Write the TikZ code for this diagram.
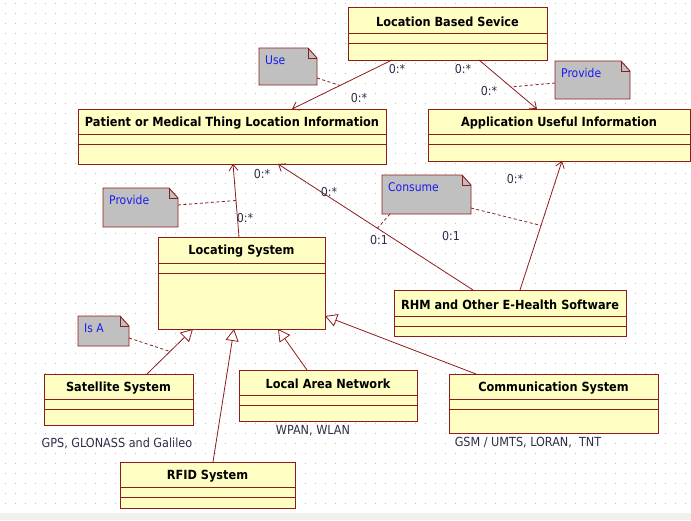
\documentclass[tikz,border=0pt]{standalone}
\usepackage{fontspec}
\setmainfont{DejaVu Sans Condensed}
\usetikzlibrary{arrows.meta,calc}

\definecolor{umlborder}{HTML}{8E1C1C}
\definecolor{umlfill}{HTML}{FFFFC4}
\definecolor{notefill}{HTML}{C0C0C0}
\definecolor{notetext}{HTML}{1A1AF0}
\definecolor{multtext}{HTML}{2E2E48}
\definecolor{griddot}{HTML}{BEBEBE}
\definecolor{stripfill}{HTML}{F0F0F0}

\tikzset{
  classbox/.style={draw=umlborder, fill=umlfill, line width=0.9pt, inner sep=0pt, outer sep=0pt},
  compline/.style={draw=umlborder, line width=0.9pt},
  classtitle/.style={font=\fontsize{12.6}{14}\selectfont\bfseries, text=black, inner sep=0pt},
  noteanchor/.style={inner sep=0pt, outer sep=0pt},
  notebody/.style={draw=umlborder, fill=notefill, line width=0.9pt},
  notetxt/.style={font=\fontsize{12}{14}\selectfont, text=notetext, anchor=west, inner sep=0pt},
  assoc/.style={draw=umlborder, line width=0.8pt, -{Straight Barb[length=6pt,width=9pt]}},
  generalize/.style={draw=umlborder, line width=0.8pt, -{Triangle[open, length=12pt, width=13pt, fill=white]}},
  anchorlink/.style={draw=umlborder, line width=0.8pt, dash pattern=on 3pt off 2.5pt},
  multlabel/.style={font=\fontsize{12.3}{14}\selectfont, text=multtext, inner sep=0pt},
  caption/.style={font=\fontsize{12.5}{14}\selectfont, text=multtext, inner sep=0pt},
  gridline/.style={draw=griddot, line width=0.9pt, dash pattern=on 0.9pt off 9.1pt, dash phase=-4.5pt}
}

% class box: name, x, y, width, height, first divider, second divider, title
\newcommand\umlclass[8]{%
  \node[classbox, minimum width=#4pt, minimum height=#5pt, anchor=north west] (#1) at (#2,#3) {};
  \draw[compline] ([yshift=-#6pt]#1.north west) -- ([yshift=-#6pt]#1.north east);
  \draw[compline] ([yshift=-#7pt]#1.north west) -- ([yshift=-#7pt]#1.north east);
  \node[classtitle, yshift=-1.5pt] at ($(#1.north west)!0.5!([yshift=-#6pt]#1.north east)$) {#8};
}

% note with a folded corner: name, x, y, width, height, text
\newcommand\umlnote[6]{%
  \node[noteanchor, minimum width=#4pt, minimum height=#5pt, anchor=north west] (#1) at (#2,#3) {};
  \path[notebody] (#1.north west) -- ([xshift=-9pt]#1.north east) -- ([yshift=-10pt]#1.north east)
    -- (#1.south east) -- (#1.south west) -- cycle;
  \draw[compline, line width=0.7pt] ([xshift=-9pt]#1.north east) -- ([xshift=-9pt,yshift=-10pt]#1.north east)
    -- ([yshift=-10pt]#1.north east);
  \node[notetxt] at ([xshift=6pt,yshift=-12pt]#1.north west) {#6};
}

\begin{document}
\begin{tikzpicture}[x=1pt,y=-1pt]
  \useasboundingbox (0,0) rectangle (691,520);
  \fill[white] (0,0) rectangle (691,520);

  % dotted drawing grid
  \foreach \gy in {3,13,...,503} {
    \draw[gridline] (0,\gy) -- (691,\gy);
  }
  \fill[stripfill] (0,513) rectangle (691,520);

  % classes
  \umlclass{lbs}{348}{7}{199}{53}{26}{36}{Location Based Sevice}
  \umlclass{patient}{78}{109}{308}{55}{25}{35}{Patient or Medical Thing Location Information}
  \umlclass{appinfo}{428}{109}{262}{52}{25}{35}{Application Useful Information}
  \umlclass{locsys}{158}{237}{167}{92}{26}{36}{Locating System}
  \umlclass{rhm}{394}{290}{232}{46}{26}{36}{RHM and Other E-Health Software}
  \umlclass{satellite}{44}{374}{149}{51}{25}{35}{Satellite System}
  \umlclass{lan}{239}{370}{178}{51}{25}{35}{Local Area Network}
  \umlclass{comm}{449}{374}{209}{59}{25}{35}{Communication System}
  \umlclass{rfid}{120}{462}{175}{46}{25}{35}{RFID System}

  % associations
  \draw[assoc] ([xshift=44pt]lbs.south west) -- ([xshift=214pt]patient.north west)
    coordinate[pos=0.52] (usept);
  \draw[assoc] ([xshift=131pt]lbs.south west) -- ([xshift=109pt]appinfo.north west)
    coordinate[pos=0.55] (providept);
  \draw[assoc] ([xshift=81pt]locsys.north west) -- ([xshift=155pt]patient.south west)
    coordinate[pos=0.5] (locprovpt);
  \draw[assoc] ([xshift=79pt]rhm.north west) -- ([xshift=200pt]patient.south west)
    coordinate[pos=0.49] (consumeleft);
  \draw[assoc] ([xshift=126pt]rhm.north west) -- ([xshift=134pt]appinfo.south west)
    coordinate[pos=0.5] (consumeright);

  % generalizations
  \draw[generalize] ([xshift=103pt]satellite.north west) -- ([xshift=35pt]locsys.south west)
    coordinate[pos=0.5] (isapt);
  \draw[generalize] ([xshift=93pt]rfid.north west) -- ([xshift=76pt]locsys.south west);
  \draw[generalize] ([xshift=68pt]lan.north west) -- ([xshift=120pt]locsys.south west);
  \draw[generalize] ([xshift=27pt]comm.north west) -- ([yshift=13pt]locsys.south east);

  % notes
  \umlnote{usenote}{259}{48}{58}{37}{Use}
  \umlnote{providenote}{555}{61}{75}{38}{Provide}
  \umlnote{locprovnote}{103}{188}{75}{39}{Provide}
  \umlnote{consumenote}{382}{175}{89}{39}{Consume}
  \umlnote{isanote}{78}{316}{51}{30}{Is A}

  % note anchors
  \draw[anchorlink] ([yshift=-30pt]usenote.north east) -- (usept);
  \draw[anchorlink] ([yshift=-22pt]providenote.north west) -- (providept);
  \draw[anchorlink] ([yshift=-17pt]locprovnote.north east) -- (locprovpt);
  \draw[anchorlink] ([xshift=8pt]consumenote.south west) -- (consumeleft);
  \draw[anchorlink] ([yshift=-33pt]consumenote.north east) -- (consumeright);
  \draw[anchorlink] ([yshift=-22pt]isanote.north east) -- (isapt);

  % multiplicities
  \node[multlabel] (m1) at (397,69) {0:*};
  \node[multlabel] (m2) at (359,98) {0:*};
  \node[multlabel] (m3) at (463,69) {0:*};
  \node[multlabel] (m4) at (489,91) {0:*};
  \node[multlabel] (m5) at (262,174) {0:*};
  \node[multlabel] (m6) at (245,218) {0:*};
  \node[multlabel] (m7) at (329,192) {0:*};
  \node[multlabel] (m8) at (379,240) {0:1};
  \node[multlabel] (m9) at (515,179) {0:*};
  \node[multlabel] (m10) at (451,236) {0:1};

  % technology captions
  \node[caption] (satcap) at (117,443) {GPS, GLONASS and Galileo};
  \node[caption] (lancap) at (313,431) {WPAN, WLAN};
  \node[caption] (commcap) at (528,443) {GSM / UMTS, LORAN,\ \ TNT};
\end{tikzpicture}
\end{document}
